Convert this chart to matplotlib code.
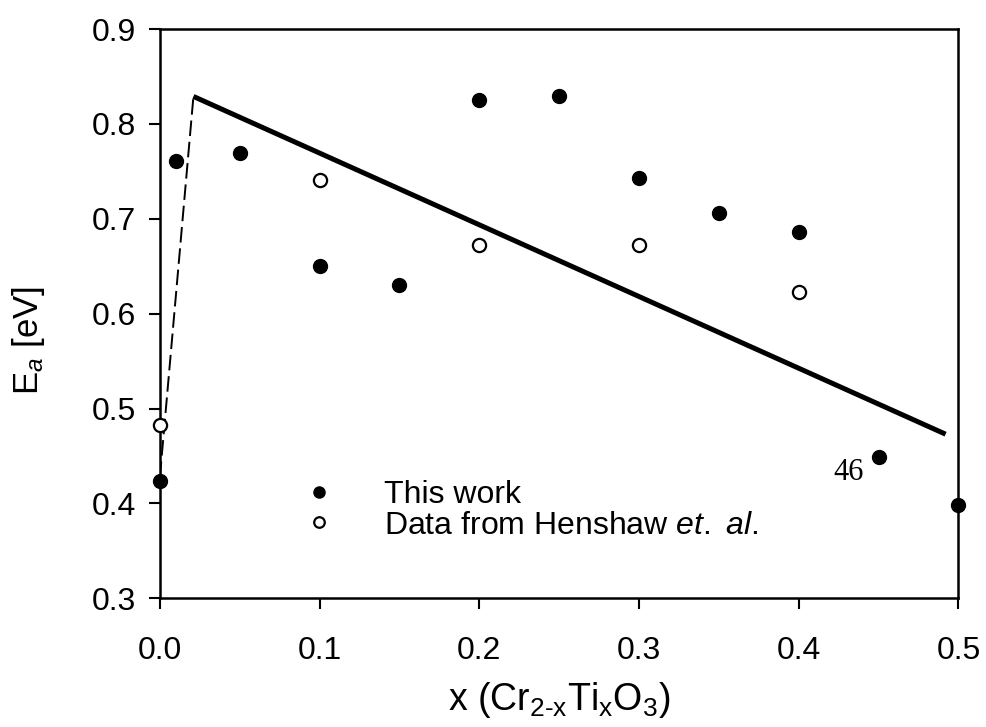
import matplotlib
matplotlib.use("Agg")
import matplotlib.pyplot as plt

plt.rcParams['font.family'] = ['Liberation Sans', 'DejaVu Sans']
plt.rcParams['mathtext.fontset'] = 'custom'
plt.rcParams['mathtext.rm'] = 'Liberation Sans'
plt.rcParams['mathtext.it'] = 'Liberation Sans:italic'
plt.rcParams['mathtext.bf'] = 'Liberation Sans:bold'

# This work (filled circles)
x_work = [0.0, 0.01, 0.05, 0.10, 0.15, 0.20, 0.25, 0.30, 0.35, 0.40, 0.45, 0.50]
ea_work = [0.424, 0.761, 0.769, 0.650, 0.630, 0.825, 0.829, 0.743, 0.706, 0.686, 0.449, 0.398]

# Henshaw et al. (open circles)
x_hen = [0.0, 0.10, 0.20, 0.30, 0.40]
ea_hen = [0.483, 0.741, 0.672, 0.672, 0.623]

# guide lines
x_dash = [0.0, 0.021]
y_dash = [0.428, 0.829]
x_solid = [0.021, 0.492]
y_solid = [0.829, 0.473]

x_ticks = [0.0, 0.1, 0.2, 0.3, 0.4, 0.5]
y_ticks = [0.3, 0.4, 0.5, 0.6, 0.7, 0.8, 0.9]

fig = plt.figure(figsize=(9.87, 7.27), dpi=100)
ax = fig.add_axes([0.162, 0.177, 0.809, 0.783])

ax.plot(x_dash, y_dash, color='black', lw=1.4, ls=(0, (8, 3)))
ax.plot(x_solid, y_solid, color='black', lw=3.6, solid_capstyle='butt')

ax.plot(x_work, ea_work, 'o', color='black', ms=10, clip_on=False, zorder=5,
        label='This work')
ax.plot(x_hen, ea_hen, 'o', mfc='white', mec='black', mew=1.6, ms=9.5, clip_on=False,
        zorder=5, label='Data from Henshaw $\\mathit{et.\\ al.}$')

ax.set_xlim(0, 0.5)
ax.set_ylim(0.3, 0.9)
ax.set_xticks(x_ticks)
ax.set_xticklabels(['%.1f' % v for v in x_ticks])
ax.set_yticks(y_ticks)
ax.set_yticklabels(['%.1f' % v for v in y_ticks])
ax.tick_params(axis='both', direction='out', length=8, width=1.5, labelsize=23,
               top=False, right=False)
ax.tick_params(axis='x', pad=19)
ax.tick_params(axis='y', pad=9)
for s in ax.spines.values():
    s.set_linewidth(1.8)

ax.set_xlabel('x (Cr$_{\\mathrm{2\\text{-}x}}$Ti$_{\\mathrm{x}}$O$_3$)', fontsize=27, labelpad=10)
ax.set_ylabel('E$_{\\mathit{a}}$ [eV]', fontsize=25)
ax.yaxis.set_label_coords(-0.142, 0.453)

leg = ax.legend(loc='lower left', bbox_to_anchor=(0.163, 0.079), frameon=False, fontsize=23,
                markerscale=0.8, handlelength=1.0, handletextpad=1.55, labelspacing=0.02,
                borderaxespad=0)

ax.text(0.843, 0.195, '46', transform=ax.transAxes, fontsize=22,
        family='Liberation Serif', ha='left', va='bottom')

plt.savefig('out.png', dpi=100)
